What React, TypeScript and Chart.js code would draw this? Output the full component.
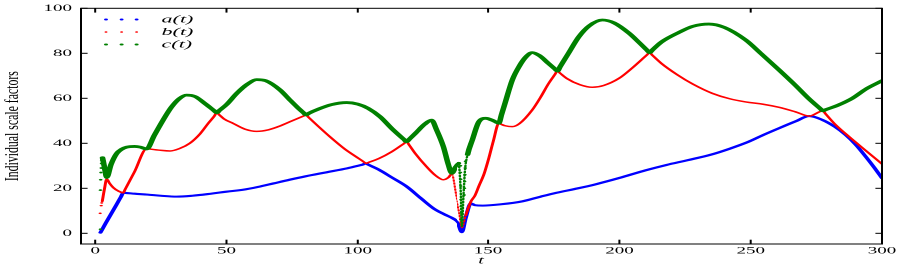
import React, { useEffect, useRef } from "react";
import { Chart, registerables } from "chart.js";
Chart.register(...registerables);

const xTicks = [0, 50, 100, 150, 200, 250, 300];
const yTicks = [0, 20, 40, 60, 80, 100];
const seriesLabels = ["a(t)", "b(t)", "c(t)"];
const seriesColors = ["#0000ff", "#ff0000", "#008000"];
const yTitle = "Individual scale factors";
const xTitle = "t";

const aCurve: [number, number][] = [
  [2.0, 0.3], [4, 4.5], [6, 8.5], [8, 12.5], [9.8, 16.2], [10.7, 18.0], [12, 17.9], [15, 17.6],
  [20, 17.2], [25, 16.7], [31, 16.3], [37, 16.7], [44, 17.6], [50, 18.5], [56, 19.3], [62, 20.6],
  [68, 22.2], [74, 23.8], [80, 25.3], [88, 27.1], [96, 28.9], [100, 30.0], [102, 30.6], [103, 31.1],
  [104, 30.5], [108, 28.3],
  [113, 24.8], [118.6, 20.8], [124, 15.6], [128.8, 11.1], [133, 8.4], [136.4, 6.5], [138.5, 4.5],
  [140, 0.5], [141.5, 7.0], [143.4, 13.3], [145, 12.5], [148, 12.3], [155, 12.9], [163, 14.2],
  [170, 16.3], [176, 18.0], [183, 19.7], [191, 21.8], [200, 24.6], [210, 28.0], [218, 30.4],
  [226, 32.5], [235, 35.0], [242, 37.6], [249, 40.6], [255, 43.8], [261, 46.8], [267, 49.7],
  [272.3, 52.1], [277.3, 50.4], [282, 47.4], [286.2, 43.7], [290, 39.4], [294, 33.8], [297, 29.3],
  [300, 24.5],
];

const bCurve: [number, number][] = [
  [2.7, 14.2], [3.5, 19.5], [4.4, 24.1], [5.5, 22.2], [6.9, 20.3], [8.8, 18.8], [10.7, 18.0],
  [11.4, 19.5], [15, 27.4], [19.6, 37.5], [24, 37.0], [28.5, 36.6], [32, 37.6], [36, 40.0],
  [40, 44.3], [43, 48.8], [45.3, 52.0], [46.3, 53.6], [47.3, 52.6], [49, 50.9], [52.6, 48.8],
  [57, 46.3], [61.5, 45.3], [66, 46.0], [70.4, 47.7], [75, 50.0], [79.3, 52.1], [80.3, 52.6],
  [81.3, 51.5], [85, 47.5], [89.4, 42.9], [95, 37.5], [99, 34.3], [102.1, 31.9], [103.1, 31.1],
  [104.1, 31.5], [108, 33.2], [113, 36.3], [117.6, 39.9], [118.6, 40.7], [119.6, 39.2],
  [122, 35.3], [126.2, 29.6], [129.5, 25.8], [132.6, 23.8], [134.5, 24.8], [135.8, 26.4],
  [137.5, 17], [139, 9], [140, 2.5], [141.5, 8], [143.4, 14.0], [145, 16.8], [146.5, 21.0],
  [148.5, 26.5], [150.3, 33.5], [152, 41], [154.1, 48.9], [155.1, 48.4], [156.5, 47.8],
  [159.2, 47.4], [162, 48.8], [166.8, 54.8], [170, 60.5], [173, 66.5], [175.4, 70.5],
  [176.4, 72.1], [177.4, 71.2], [180, 68.8], [185, 66.0], [189.7, 64.9], [194, 65.7],
  [199.9, 68.9], [205, 73.6], [210.5, 79.3], [211.5, 80.3], [212.5, 79.2], [216, 75.5],
  [222, 70.5], [228, 66.3], [235.4, 62.2], [242, 59.8], [248.1, 58.4], [255, 57.3], [260.8, 56.0],
  [267, 54.0], [272.3, 52.1], [277.5, 54.4], [278.5, 53.1], [282, 48.6], [287.5, 42.9],
  [294, 36.6], [300, 30.8],
];

const cCurve: [number, number][] = [
  [2.8, 33.6], [3.6, 29], [4.4, 24.8], [6, 30.5], [8.2, 35.5], [10, 37.3], [12, 38.3], [15, 38.6],
  [17.2, 38.3], [19.6, 37.5], [22.5, 43.5], [25.9, 50.4], [29, 56], [32, 59.8], [34.8, 61.4],
  [38, 60.8], [42, 57.5], [45.3, 54.5], [46.3, 53.6], [47.3, 54.6], [50, 57.2], [54, 62.3],
  [58, 66.3], [61.5, 68.3], [65, 67.8], [70.4, 63.7], [74.2, 59.2], [77, 56], [79.3, 53.6],
  [80.3, 52.6], [81.3, 53.3], [85, 55.2], [90, 57.2], [95.8, 58.1], [100, 57.4], [104, 55.5],
  [108.5, 51.8], [113, 46.5], [117.6, 41.7], [118.6, 40.7], [119.6, 41.8], [122, 44.5],
  [125.5, 48.5], [128.1, 50.3], [130, 46], [132.6, 38.5], [134.5, 30.5], [135.8, 26.7],
  [137.3, 29.5], [138.7, 31.1], [139.6, 18], [140, 3], [140.6, 16], [141.2, 28], [142.2, 35],
  [144, 41.5], [146.5, 49.6], [149.1, 51.1], [151.5, 50.3], [153.1, 49.4], [154.1, 48.9],
  [155.1, 52.7], [156.5, 58], [159.2, 68.1], [162, 74.5], [164.5, 78.5], [166.8, 80.3],
  [169.5, 79], [173, 75.5], [175.4, 73.1], [176.4, 72.1], [177.4, 74.0], [180.5, 79.8],
  [184.6, 87.4], [188.5, 92.2], [193.5, 94.8], [198, 93.5], [203.7, 88.9], [207.5, 84.8],
  [210.5, 81.4], [211.5, 80.3], [212.5, 81.4], [216, 85.0], [222.7, 89.3], [228, 92.0],
  [234.1, 93.0], [240, 91.5], [248.1, 85.9], [254, 79.8], [260.8, 72.6], [267, 65.8], [272, 60],
  [276.5, 55.4], [277.5, 54.4], [278.5, 54.9], [283, 56.8], [288.7, 60.0], [294, 64.2],
  [300, 67.8],
];

// sparse markers where the solution changes quickly
const bSparse: [number, number][] = [[1.9, 8.9], [2.3, 12.3], [2.5, 13.5]];
const cSparse: [number, number][] = [
  [2.0, 1.8], [2.0, 19.2], [2.1, 23.8], [2.2, 27], [2.3, 29], [2.4, 31], [2.5, 32.5],
  [139.5, 30], [139.5, 27], [139.6, 24], [139.6, 21], [139.7, 15], [139.7, 12], [139.8, 9],
  [139.9, 6], [140.9, 17], [141.0, 20], [141.1, 23], [141.2, 26], [141.3, 29], [141.4, 32],
];

const bDashRange = [135.7, 142.0];
const cDashRange = [138.6, 142.3];

const CW = 457;
const CH = 271;

const toXY = (arr: [number, number][]) => arr.map(([x, y]) => ({ x, y }));

const decorPlugin = {
  id: "decor",
  afterDraw(chart: any) {
    const { ctx, chartArea: ca, scales } = chart;
    const xs = scales.x;
    const ys = scales.y;
    ctx.save();
    ctx.strokeStyle = "#000";
    ctx.lineWidth = 1;
    ctx.strokeRect(ca.left, ca.top, ca.right - ca.left, ca.bottom - ca.top);
    const seg = (x1: number, y1: number, x2: number, y2: number) => {
      ctx.beginPath();
      ctx.moveTo(x1, y1);
      ctx.lineTo(x2, y2);
      ctx.stroke();
    };
    xTicks.forEach((v) => {
      const px = xs.getPixelForValue(v);
      seg(px, ca.bottom, px, ca.bottom - 4.3);
      seg(px, ca.top, px, ca.top + 4.3);
    });
    yTicks.forEach((v) => {
      const py = ys.getPixelForValue(v);
      seg(ca.left, py, ca.left + 3.3, py);
      seg(ca.right, py, ca.right - 3.3, py);
    });
    ctx.fillStyle = "#000";
    ctx.font = '9.5px "Liberation Serif"';
    ctx.textAlign = "center";
    ctx.textBaseline = "middle";
    xTicks.forEach((v) => ctx.fillText(String(v), xs.getPixelForValue(v), 251));
    ctx.textAlign = "right";
    yTicks.forEach((v) => ctx.fillText(String(v), 36, ys.getPixelForValue(v)));

    // x title
    ctx.font = 'italic 10px "Liberation Serif"';
    ctx.textAlign = "center";
    ctx.fillText(xTitle, (ca.left + ca.right) / 2, 261);

    // y title
    ctx.save();
    ctx.font = '10px "Liberation Serif"';
    const w = ctx.measureText(yTitle).width;
    ctx.translate(6.7, (ca.top + ca.bottom) / 2);
    ctx.rotate(-Math.PI / 2);
    ctx.scale(110 / w, 0.9);
    ctx.textAlign = "center";
    ctx.textBaseline = "middle";
    ctx.fillText(yTitle, 0, 0);
    ctx.restore();

    // legend
    const rows = [19.5, 32, 44.5];
    const mx = [53, 60.8, 68.3];
    const radii = [1.0, 0.75, 1.05];
    ctx.font = 'italic 11px "Liberation Serif"';
    ctx.textAlign = "left";
    ctx.textBaseline = "middle";
    seriesLabels.forEach((lab, i) => {
      ctx.fillStyle = seriesColors[i];
      mx.forEach((x) => {
        ctx.beginPath();
        ctx.arc(x, rows[i], radii[i], 0, Math.PI * 2);
        ctx.fill();
      });
      ctx.fillStyle = "#000";
      ctx.fillText(lab, 80.8, rows[i]);
    });
    ctx.restore();
  },
};

const dashSeg = (range: number[], width: number) => ({
  borderDash: (c: any) =>
    c.p0.parsed.x >= range[0] && c.p1.parsed.x <= range[1] ? [1.5, 1.5] : undefined,
  borderWidth: (c: any) =>
    c.p0.parsed.x >= range[0] && c.p1.parsed.x <= range[1] ? width : undefined,
});

export default function App() {
  const ref = useRef<HTMLCanvasElement | null>(null);
  useEffect(() => {
    if (!ref.current) return;
    const lineBase = {
      pointRadius: 0,
      fill: false,
      cubicInterpolationMode: "monotone" as const,
      borderCapStyle: "round" as const,
      borderJoinStyle: "round" as const,
    };
    const chart = new Chart(ref.current, {
      type: "line",
      data: {
        datasets: [
          {
            ...lineBase,
            label: seriesLabels[0],
            data: toXY(aCurve),
            borderColor: seriesColors[0],
            borderWidth: 2.1,
            order: 3,
          },
          {
            ...lineBase,
            label: seriesLabels[1],
            data: toXY(bCurve),
            borderColor: seriesColors[1],
            borderWidth: 1.5,
            order: 2,
            segment: dashSeg(bDashRange, 1.1),
          },
          {
            ...lineBase,
            label: seriesLabels[2],
            data: toXY(cCurve),
            borderColor: seriesColors[2],
            borderWidth: 2.8,
            order: 1,
            segment: dashSeg(cDashRange, 1.2),
          },
          {
            label: "b sparse",
            data: toXY(bSparse),
            showLine: false,
            pointRadius: 0.8,
            pointBorderWidth: 0,
            pointBackgroundColor: seriesColors[1],
            order: 2,
          },
          {
            label: "c sparse",
            data: toXY(cSparse),
            showLine: false,
            pointRadius: 0.9,
            pointBorderWidth: 0,
            pointBackgroundColor: seriesColors[2],
            order: 1,
          },
        ],
      },
      options: {
        animation: false,
        responsive: false,
        devicePixelRatio: 2,
        events: [],
        layout: { padding: { left: 40.5, right: CW - 441.5, top: 8.3, bottom: CH - 244 } },
        plugins: { legend: { display: false }, tooltip: { enabled: false } },
        scales: {
          x: { type: "linear", min: -5.4, max: 300, display: false },
          y: { type: "linear", min: -4.75, max: 100, display: false },
        },
      },
      plugins: [decorPlugin],
    });
    return () => chart.destroy();
  }, []);
  return (
    <div
      style={{
        position: "fixed",
        left: 0,
        top: 0,
        width: CW,
        height: CH,
        transform: `scaleX(${913 / CW})`,
        transformOrigin: "0 0",
        background: "#fff",
      }}
    >
      <canvas ref={ref} width={CW} height={CH} style={{ display: "block" }} />
    </div>
  );
}
